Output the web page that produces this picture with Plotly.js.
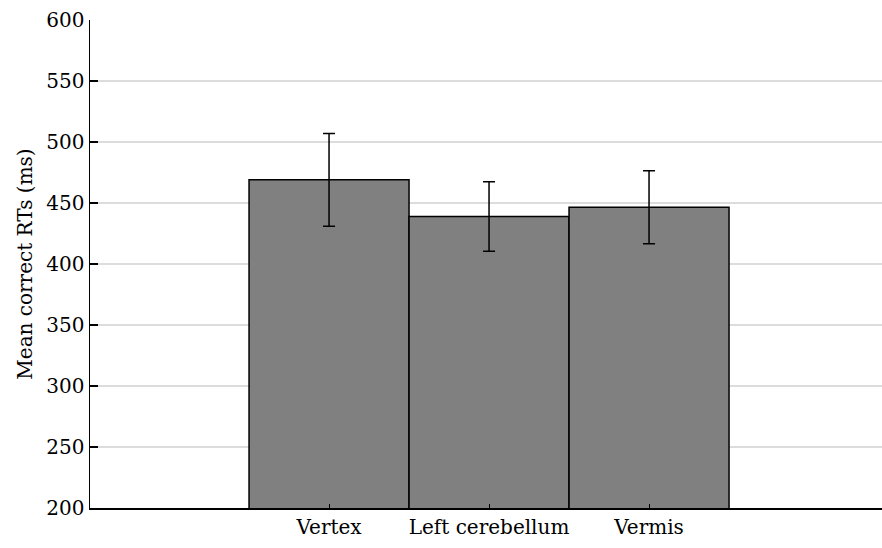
<!DOCTYPE html>
<html>
<head>
<meta charset="utf-8">
<script src="https://cdn.plot.ly/plotly-3.0.1.min.js"></script>
<style>html,body{margin:0;padding:0;background:#fff;}#chart{width:882px;height:548px;}</style>
</head>
<body>
<div id="chart"></div>
<script>
const categories = ["Vertex", "Left cerebellum", "Vermis"];
const meanRT = [469, 439, 446.5];
const errRT = [38, 28.5, 30];
const yTicks = [200, 250, 300, 350, 400, 450, 500, 550, 600];

const font = {family: "DejaVu Serif", size: 20, color: "#000"};

const trace = {
  type: "bar",
  x: categories,
  y: meanRT,
  marker: {color: "#808080", line: {color: "#000", width: 1.5}},
  error_y: {type: "data", array: errRT, visible: true, color: "#000", thickness: 1.5, width: 6},
  hoverinfo: "none"
};

const layout = {
  width: 882, height: 548,
  margin: {l: 90, r: 0, t: 20, b: 40},
  paper_bgcolor: "#fff", plot_bgcolor: "#fff",
  showlegend: false,
  bargap: 0,
  font: font,
  xaxis: {
    type: "category",
    range: [-1.494, 3.456],
    showline: true, linecolor: "#000", linewidth: 1.5,
    ticks: "inside", ticklen: 4, tickcolor: "#000", tickwidth: 1,
    showgrid: false, zeroline: false,
    tickfont: font
  },
  yaxis: {
    range: [200, 600],
    tickvals: yTicks,
    showline: true, linecolor: "#000", linewidth: 1.5,
    ticks: "inside", ticklen: 8, tickcolor: "#000", tickwidth: 1.5,
    showgrid: true, gridcolor: "#dcdcdc", gridwidth: 1.5,
    zeroline: false,
    tickfont: font,
    title: {text: "Mean correct RTs (ms)", font: font, standoff: 8}
  }
};

Plotly.newPlot("chart", [trace], layout, {staticPlot: true, displayModeBar: false});
</script>
</body>
</html>
